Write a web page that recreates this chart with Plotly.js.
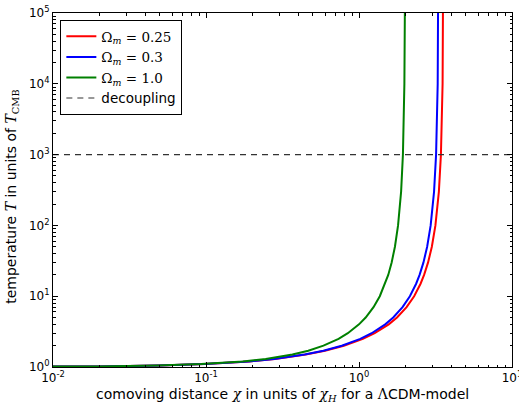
<!DOCTYPE html>
<html>
<head>
<meta charset="utf-8">
<script src="https://cdn.plot.ly/plotly-3.0.1.min.js"></script>
<style>html,body{margin:0;padding:0;background:#fff;}#chart{width:519px;height:405px;}</style>
</head>
<body>
<div id="chart"></div>
<script>
// temperature T / T_CMB (= 1+z)
var temperature = [1.005,1.01,1.02,1.05,1.1,1.2,1.3,1.5,1.7,2,2.5,3,4,5,7,10,15,20,30,50,100,300,1000,1e4,1e5,1e6];
// comoving distance chi / chi_H for each model
var chiOm025 = [0.004995,0.009981,0.019924,0.049524,0.098074,0.192130,0.281992,0.448906,0.599116,0.795759,1.060369,1.266079,1.564517,1.772134,2.047039,2.2934,2.5255,2.6639,2.8280,2.9926,3.1583,3.3274,3.4318,3.5183,3.5457,3.5544];
var chiOm03  = [0.004994,0.009977,0.019909,0.049431,0.097706,0.190700,0.278885,0.440982,0.585067,0.771414,1.018924,1.209456,1.484027,1.674258,1.925631,2.1507,2.3626,2.4889,2.6387,2.7890,2.9403,3.0946,3.1899,3.2689,3.2938,3.3017];
var chiOm10  = [0.004988,0.009926,0.019704,0.048200,0.093074,0.174258,0.245884,0.367007,0.466070,0.585786,0.735089,0.845299,1.0,1.105573,1.244071,1.367544,1.483602,1.552786,1.634852,1.717157,1.8,1.884530,1.936754,1.98,1.993675,1.998];
var decouplingX = [0.01, 10];
var decouplingT = [1000, 1000];
var xTickVals = [0.01, 0.1, 1, 10];
var xTickText = ['10<sup>-2</sup>','10<sup>-1</sup>','10<sup>0</sup>','10<sup>1</sup>'];
var yTickVals = [1, 10, 100, 1000, 1e4, 1e5];
var yTickText = ['10<sup>0</sup>','10<sup>1</sup>','10<sup>2</sup>','10<sup>3</sup>','10<sup>4</sup>','10<sup>5</sup>'];
var minorMult = [2,3,4,5,6,7,8,9];

function minorTicks(decades){
  var out = [];
  decades.forEach(function(d){ minorMult.forEach(function(k){ out.push(k*d); }); });
  return out;
}

var serif = 'font-family:DejaVu Serif';
function m(s){ return '<span style="' + serif + '">' + s + '</span>'; }

var traces = [
  {x: chiOm025, y: temperature, mode:'lines', name: m('Ω<sub><i>m</i></sub> = 0.25'), line:{color:'#ff0000', width:2}},
  {x: chiOm03,  y: temperature, mode:'lines', name: m('Ω<sub><i>m</i></sub> = 0.3'),  line:{color:'#0000ff', width:2}},
  {x: chiOm10,  y: temperature, mode:'lines', name: m('Ω<sub><i>m</i></sub> = 1.0'),  line:{color:'#008000', width:2}},
  {x: decouplingX, y: decouplingT, mode:'lines', name:'decoupling', line:{color:'#333333', width:1.2, dash:'6px,5px'}}
];

function axis(extra){
  return Object.assign({
    type:'log', showgrid:false, zeroline:false, showline:true, linecolor:'#000', linewidth:1,
    mirror:'allticks', ticks:'inside', ticklen:5, tickcolor:'#000', tickwidth:1,
    ticklabeloverflow:'allow',
    tickfont:{family:'DejaVu Sans', size:12, color:'#000'}
  }, extra);
}

var layout = {
  width:519, height:405,
  margin:{l:53, r:7, t:13, b:38},
  paper_bgcolor:'#fff', plot_bgcolor:'#fff',
  font:{family:'DejaVu Sans', size:12, color:'#000'},
  showlegend:true,
  legend:{x:0.016, y:0.98, xanchor:'left', yanchor:'top', bgcolor:'#fff', bordercolor:'#000', borderwidth:1,
          font:{family:'DejaVu Sans', size:13.5, color:'#000'}, itemwidth:30, tracegroupgap:0},
  xaxis: axis({range:[-2, 1], tickvals:xTickVals, ticktext:xTickText,
    minor:{tickvals:minorTicks([0.01,0.1,1]), ticks:'inside', ticklen:2.5, tickcolor:'#000', tickwidth:1, showgrid:false}}),
  yaxis: axis({range:[0, 5], tickvals:yTickVals, ticktext:yTickText,
    minor:{tickvals:minorTicks([1,10,100,1000,1e4]), ticks:'inside', ticklen:2.5, tickcolor:'#000', tickwidth:1, showgrid:false}}),
  annotations:[
    {xref:'paper', yref:'paper', x:0.5, y:-0.08, xanchor:'center', yanchor:'middle', showarrow:false,
     font:{family:'DejaVu Sans', size:14, color:'#000'},
     text:'comoving distance <i>' + m('χ') + '</i> in units of <i>' + m('χ') + '</i><sub><i>' + m('H') + '</i></sub> for a ' + m('Λ') + 'CDM-model'},
    {xref:'paper', yref:'paper', x:-0.09, y:0.48, xanchor:'center', yanchor:'middle', showarrow:false, textangle:-90,
     font:{family:'DejaVu Sans', size:14, color:'#000'},
     text:'temperature ' + m('<i>T</i>') + ' in units of ' + m('<i>T</i><sub>CMB</sub>')}
  ]
};

Plotly.newPlot('chart', traces, layout, {displayModeBar:false, staticPlot:true});
</script>
</body>
</html>
